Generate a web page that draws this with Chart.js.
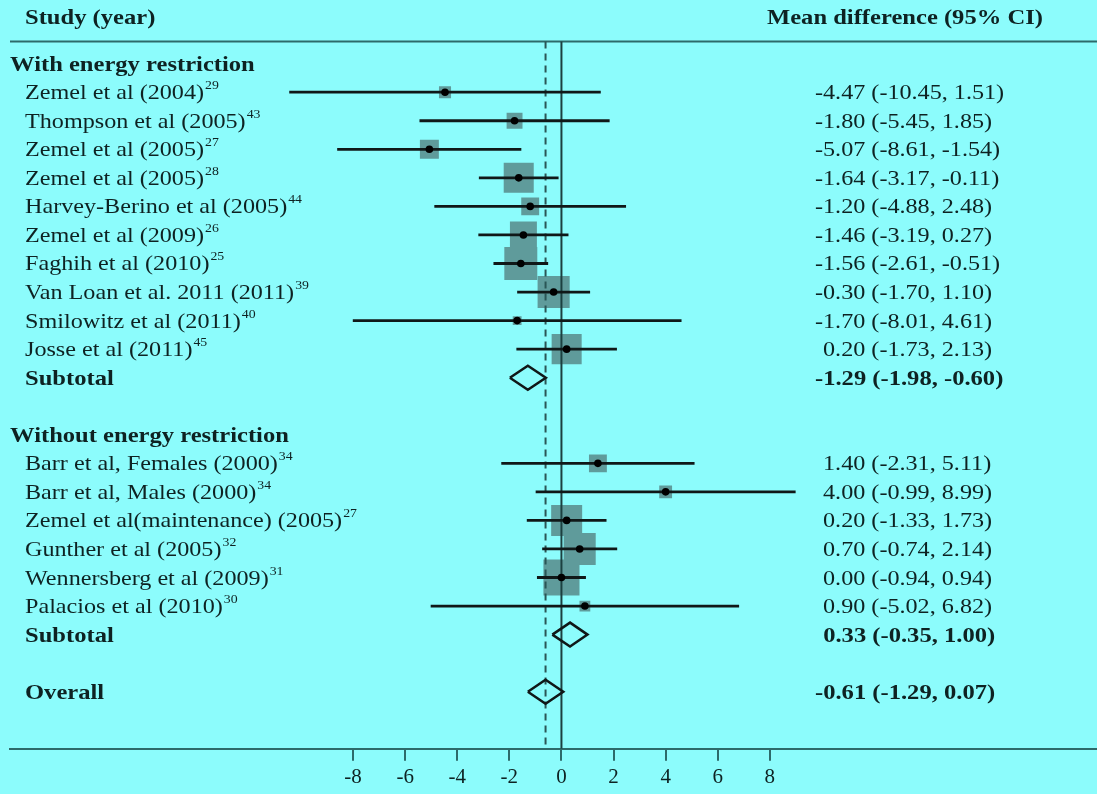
<!DOCTYPE html>
<html>
<head>
<meta charset="utf-8">
<script src="https://cdn.jsdelivr.net/npm/chart.js@4.4.1/dist/chart.umd.min.js"></script>
<style>
  html, body { margin: 0; padding: 0; background: #8cfcfc; }
  canvas { display: block; }
</style>
</head>
<body>
<canvas id="forest" width="1097" height="794"></canvas>
<script>
// ---- data ----
const groups = ['With energy restriction', 'Without energy restriction'];
const studies = [
  'Zemel et al (2004)', 'Thompson et al (2005)', 'Zemel et al (2005)', 'Zemel et al (2005)',
  'Harvey-Berino et al (2005)', 'Zemel et al (2009)', 'Faghih et al (2010)',
  'Van Loan et al. 2011 (2011)', 'Smilowitz et al (2011)', 'Josse et al (2011)',
  'Barr et al, Females (2000)', 'Barr et al, Males (2000)', 'Zemel et al(maintenance) (2005)',
  'Gunther et al (2005)', 'Wennersberg et al (2009)', 'Palacios et al (2010)'
];
const refs = ['29', '43', '27', '28', '44', '26', '25', '39', '40', '45', '34', '34', '27', '32', '31', '30'];
const studyGroup = [0, 0, 0, 0, 0, 0, 0, 0, 0, 0, 1, 1, 1, 1, 1, 1];
const meanDiff = [-4.47, -1.80, -5.07, -1.64, -1.20, -1.46, -1.56, -0.30, -1.70, 0.20, 1.40, 4.00, 0.20, 0.70, 0.00, 0.90];
const ciLow = [-10.45, -5.45, -8.61, -3.17, -4.88, -3.19, -2.61, -1.70, -8.01, -1.73, -2.31, -0.99, -1.33, -0.74, -0.94, -5.02];
const ciHigh = [1.51, 1.85, -1.54, -0.11, 2.48, 0.27, -0.51, 1.10, 4.61, 2.13, 5.11, 8.99, 1.73, 2.14, 0.94, 6.82];
const weights = [1.5, 2.6, 3.7, 9.3, 3.3, 7.5, 11.2, 10.6, 0.8, 9.3, 3.3, 1.7, 9.9, 10.6, 13.4, 1.2]; // % weight
const subtotalMean = [-1.29, 0.33];
const subtotalLow = [-1.98, -0.35];
const subtotalHigh = [-0.60, 1.00];
const overallMean = -0.61;
const overallLow = -1.29;
const overallHigh = 0.07;
const xTicks = [-8, -6, -4, -2, 0, 2, 4, 6, 8];

// ---- row layout (one row per line of the table) ----
const groupRow = [], studyRow = [], subtotalRow = [];
let r = 0;
groups.forEach((g, gi) => {
  groupRow[gi] = r++;
  studyGroup.forEach((sg, i) => { if (sg === gi) studyRow[i] = r++; });
  subtotalRow[gi] = r++;
  r++; // blank line between sections
});
const overallRow = r;
const axisRow = overallRow + 2;
const headerRow = -1.62;
const ruleRow = -0.78;
const Y_TOP = -2.23;
const X_MIN = -21.17, X_MAX = 20.56;

// ---- styles ----
const BG = '#8cfcfc';
const TEXT = '#0e2222';
const LINE = '#101818';
const RULE = '#2d6a6a';
const BOX = '#5f9b9b';
const SERIF = "'Liberation Serif', 'Times New Roman', serif";
const SX = 1.15;      // horizontal stretch, regular text
const SX_BOLD = 1.17; // horizontal stretch, bold text

const datasets = [];

// weight boxes
datasets.push({
  data: meanDiff.map((m, i) => ({ x: m, y: studyRow[i] })),
  pointStyle: 'rect',
  pointRadius: weights.map(w => 9.85 * Math.sqrt(w) / Math.SQRT2),
  backgroundColor: BOX, borderWidth: 0, pointBorderWidth: 0,
  order: 5
});

// confidence interval lines
meanDiff.forEach((m, i) => {
  datasets.push({
    data: [{ x: ciLow[i], y: studyRow[i] }, { x: ciHigh[i], y: studyRow[i] }],
    showLine: true, borderColor: LINE, borderWidth: 2.8, pointRadius: 0, fill: false,
    order: 3
  });
});

// point estimates
datasets.push({
  data: meanDiff.map((m, i) => ({ x: m, y: studyRow[i] })),
  pointStyle: 'circle', pointRadius: 3.8, backgroundColor: '#000', borderWidth: 0, pointBorderWidth: 0,
  order: 1
});

// pooled diamonds
function diamond(mean, lo, hi, row) {
  const h = 0.42;
  return [
    { x: lo, y: row }, { x: mean, y: row - h }, { x: hi, y: row },
    { x: mean, y: row + h }, { x: lo, y: row }
  ];
}
subtotalMean.forEach((m, gi) => {
  datasets.push({
    data: diamond(m, subtotalLow[gi], subtotalHigh[gi], subtotalRow[gi]),
    showLine: true, borderColor: LINE, borderWidth: 2.5, pointRadius: 0, fill: false,
    borderJoinStyle: 'miter', tension: 0, order: 1
  });
});
datasets.push({
  data: diamond(overallMean, overallLow, overallHigh, overallRow),
  showLine: true, borderColor: LINE, borderWidth: 2.5, pointRadius: 0, fill: false,
  borderJoinStyle: 'miter', tension: 0, order: 1
});

// line of no effect and overall estimate
datasets.push({
  data: [{ x: 0, y: ruleRow }, { x: 0, y: axisRow }],
  showLine: true, borderColor: '#1c4040', borderWidth: 2, pointRadius: 0, order: 4
});
datasets.push({
  data: [{ x: overallMean, y: ruleRow }, { x: overallMean, y: axisRow }],
  showLine: true, borderColor: '#2a5656', borderWidth: 2, borderDash: [7, 5], pointRadius: 0, order: 4
});
// rule under the column headings
datasets.push({
  data: [{ x: X_MIN, y: ruleRow }, { x: X_MAX, y: ruleRow }],
  showLine: true, borderColor: RULE, borderWidth: 2, pointRadius: 0, order: 4
});

const fmt = v => v.toFixed(2);

const background = {
  id: 'background',
  beforeDraw(chart) {
    const c = chart.ctx;
    c.save();
    c.fillStyle = BG;
    c.fillRect(0, 0, chart.width, chart.height);
    c.restore();
  }
};

const tableText = {
  id: 'tableText',
  afterDraw(chart) {
    const c = chart.ctx;
    const ys = chart.scales.y;
    const reg = `21px ${SERIF}`;
    const bold = `bold 21px ${SERIF}`;
    const sup = `12px ${SERIF}`;
    const stretchOf = font => (font.startsWith('bold') ? SX_BOLD : SX);
    const put = (text, x, row, font) => {
      const y = ys.getPixelForValue(row) + 7;
      const sx = stretchOf(font);
      c.save();
      c.font = font;
      c.fillStyle = TEXT;
      c.textBaseline = 'alphabetic';
      c.translate(x, y);
      c.scale(sx, 1);
      c.fillText(text, 0, 0);
      const w = c.measureText(text).width * sx;
      c.restore();
      return w;
    };
    const minusW = font => {
      c.save(); c.font = font;
      const w = c.measureText('-').width * stretchOf(font);
      c.restore();
      return w;
    };
    const value = (m, lo, hi, row, font) => {
      const s = `${fmt(m)} (${fmt(lo)}, ${fmt(hi)})`;
      const x = 815 + (m < 0 ? 0 : minusW(font));
      put(s, x, row, font);
    };

    put('Study (year)', 25, headerRow, bold);
    put('Mean difference (95% CI)', 767, headerRow, bold);

    groups.forEach((g, gi) => {
      put(g, 10, groupRow[gi], bold);
      put('Subtotal', 25, subtotalRow[gi], bold);
      value(subtotalMean[gi], subtotalLow[gi], subtotalHigh[gi], subtotalRow[gi], bold);
    });
    studies.forEach((s, i) => {
      const w = put(s, 25, studyRow[i], reg);
      c.save();
      c.font = sup;
      c.fillStyle = TEXT;
      c.translate(25 + w + 1, ys.getPixelForValue(studyRow[i]) - 3);
      c.scale(SX, 1);
      c.fillText(refs[i], 0, 0);
      c.restore();
      value(meanDiff[i], ciLow[i], ciHigh[i], studyRow[i], reg);
    });
    put('Overall', 25, overallRow, bold);
    value(overallMean, overallLow, overallHigh, overallRow, bold);
  }
};

new Chart(document.getElementById('forest'), {
  type: 'scatter',
  data: { datasets },
  options: {
    responsive: false,
    animation: false,
    events: [],
    layout: { padding: { left: 10, right: 0, top: 0, bottom: 0 }, autoPadding: false },
    plugins: { legend: { display: false }, tooltip: { enabled: false } },
    elements: { line: { tension: 0 } },
    scales: {
      x: {
        type: 'linear',
        min: X_MIN,
        max: X_MAX,
        afterBuildTicks: scale => { scale.ticks = xTicks.map(v => ({ value: v })); },
        grid: { drawOnChartArea: false, drawTicks: true, tickLength: 12, color: RULE, lineWidth: 2 },
        border: { display: true, color: RULE, width: 2 },
        ticks: { color: TEXT, padding: 4, font: { family: SERIF, size: 21, lineHeight: 1.2 } }
      },
      y: {
        type: 'linear',
        display: false,
        reverse: true,
        min: Y_TOP,
        max: axisRow
      }
    }
  },
  plugins: [background, tableText]
});
</script>
</body>
</html>
